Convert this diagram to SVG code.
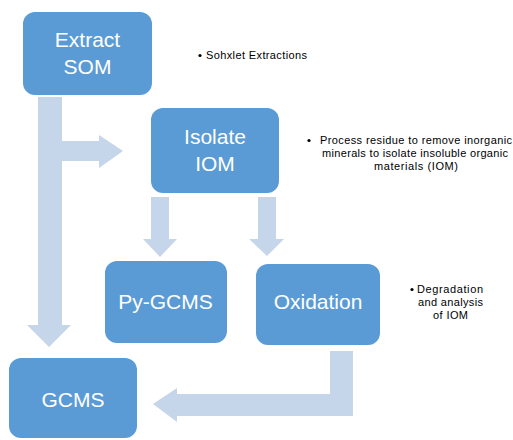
<svg xmlns="http://www.w3.org/2000/svg" width="513" height="440" viewBox="0 0 513 440">
<defs>
<style>
.box{fill:#5b9bd5;}
.arrow{fill:#c5d5ea;}
.lbl{font-family:"Liberation Sans",Arial,sans-serif;font-size:21px;fill:#ffffff;text-anchor:middle;}
.note{font-family:"Liberation Sans",Arial,sans-serif;font-size:11px;fill:#000000;}
</style>
</defs>
<rect width="513" height="440" fill="#ffffff"/>
<g id="connectors">
<polygon class="arrow" points="38,97 62,97 62,141 99,141 99,135 123,151 99,168 99,161 62,161 62,325 71,325 49,347 27,325 38,325"/>
<polygon class="arrow" points="151,197 169,197 169,239 177,239 160,257 143,239 151,239"/>
<polygon class="arrow" points="258,197 276,197 276,239 284,239 267,256 249,239 258,239"/>
<polygon class="arrow" points="330,351 353,351 353,416 177,416 177,422 153,404 177,388 177,394 330,394"/>
</g>
<g id="extract-som">
<rect class="box" x="23" y="12" width="129" height="83" rx="12"/>
<text class="lbl" x="87.5" y="47">Extract</text>
<text class="lbl" x="87.5" y="74">SOM</text>
</g>
<g id="isolate-iom">
<rect class="box" x="151" y="108" width="128" height="85" rx="12"/>
<text class="lbl" x="215" y="144">Isolate</text>
<text class="lbl" x="215" y="171">IOM</text>
</g>
<g id="py-gcms">
<rect class="box" x="105" y="261" width="122" height="82" rx="12"/>
<text class="lbl" x="165.5" y="309">Py-GCMS</text>
</g>
<g id="oxidation">
<rect class="box" x="256" y="264" width="124" height="81" rx="12"/>
<text class="lbl" x="318" y="309">Oxidation</text>
</g>
<g id="gcms">
<rect class="box" x="9" y="358" width="128" height="80" rx="12"/>
<text class="lbl" x="73" y="407">GCMS</text>
</g>
<g id="note-sohxlet">
<circle cx="200" cy="55.5" r="1.6" fill="#000"/>
<text class="note" x="206" y="59" textLength="101" lengthAdjust="spacing">Sohxlet Extractions</text>
</g>
<g id="note-process">
<circle cx="309" cy="140.5" r="1.6" fill="#000"/>
<text class="note" x="320" y="144" textLength="192" lengthAdjust="spacing">Process residue to remove inorganic</text>
<text class="note" x="322" y="157" textLength="186" lengthAdjust="spacing">minerals to isolate insoluble organic</text>
<text class="note" x="374" y="170" textLength="84" lengthAdjust="spacing">materials (IOM)</text>
</g>
<g id="note-degradation">
<circle cx="412" cy="289.5" r="1.6" fill="#000"/>
<text class="note" x="417" y="293" textLength="66" lengthAdjust="spacing">Degradation</text>
<text class="note" x="418" y="306" textLength="65" lengthAdjust="spacing">and analysis</text>
<text class="note" x="433" y="319" textLength="35" lengthAdjust="spacing">of IOM</text>
</g>
</svg>
